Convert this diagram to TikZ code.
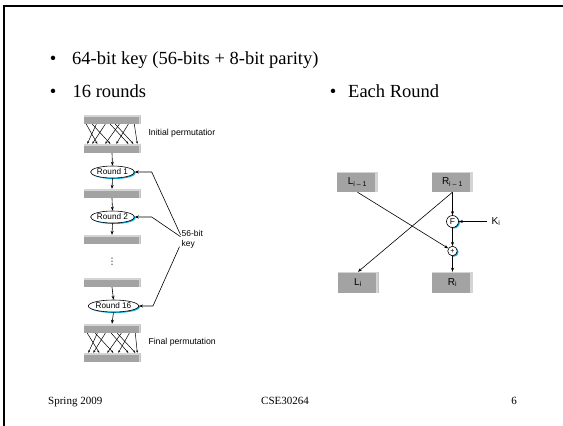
\documentclass[tikz,border=0pt]{standalone}
\usepackage{fontspec}
\setmainfont{Liberation Serif}
\setsansfont{Liberation Sans}
\newfontfamily\dejavu{DejaVu Sans}
\usetikzlibrary{arrows.meta,shapes.geometric,shadows,calc}
\definecolor{barfill}{RGB}{163,163,163}
\definecolor{bevel}{RGB}{212,212,212}
\definecolor{cyanshadow}{RGB}{0,175,225}
\begin{document}
\begin{tikzpicture}[x=1pt,y=-1pt,
  body/.style={font=\fontsize{18.5}{20}\selectfont, inner sep=0pt},
  foot/.style={font=\fontsize{11}{12}\selectfont, inner sep=0pt},
  lbl/.style={font=\sffamily\fontsize{8.7}{10}\selectfont, inner sep=0pt},
  bar/.style={rectangle, minimum width=57pt, minimum height=9pt, inner sep=0pt, fill=barfill,
    path picture={\fill[bevel] (path picture bounding box.north west) rectangle ([yshift=-1.5pt]path picture bounding box.north east);
                  \fill[bevel] ([xshift=-2pt]path picture bounding box.north east) rectangle (path picture bounding box.south east);}},
  box/.style={rectangle, minimum width=41pt, minimum height=20pt, inner sep=0pt, fill=barfill,
    font=\sffamily\fontsize{10}{11}\selectfont,
    path picture={\fill[bevel] ([xshift=-3pt]path picture bounding box.north east) rectangle (path picture bounding box.south east);
                  \fill[bevel] (path picture bounding box.north west) rectangle ([yshift=-1pt]path picture bounding box.north east);}},
  shad/.style={drop shadow={shadow xshift=1.3pt, shadow yshift=-1pt, fill=cyanshadow, opacity=1}},
  rnd/.style={ellipse, draw, fill=white, line width=0.6pt, minimum width=39pt, minimum height=12pt, inner sep=0pt,
    font=\sffamily\fontsize{8.2}{9}\selectfont, shad},
  crc/.style={circle, draw, fill=white, line width=0.6pt, inner sep=0pt, font=\sffamily\fontsize{8.5}{9}\selectfont, shad},
  arr/.style={line width=0.6pt, -{Stealth[length=4pt,width=3pt]}},
  perm/.style={line width=0.5pt, -{Stealth[length=2.5pt,width=2pt]}}
]
\useasboundingbox (0,0) rectangle (563,426);
\fill[white] (0,0) rectangle (563,426);
\draw[line width=2pt] (3.5,426) -- (3.5,6) -- (563,6);

% bullets
\node[body, anchor=base] (bl1) at (53,64.5) {•};
\node[body, anchor=base west] (t1) at (72,64.5) {64-bit key (56-bits + 8-bit parity)};
\node[body, anchor=base] (bl2) at (53,97) {•};
\node[body, anchor=base west] (t2) at (72.5,97) {16 rounds};
\node[body, anchor=base] (bl3) at (333,97) {•};
\node[body, anchor=base west] (t3) at (348,97) {Each Round};

% left diagram
\node[bar] (b0) at (112,119.5) {};
\node[bar] (b1) at (112,148.5) {};
\node[rnd] (r1) at (112.5,172) {Round 1};
\node[bar] (b2) at (112,193.5) {};
\node[rnd] (r2) at (112.5,217) {Round 2};
\node[bar] (b3) at (112,239.5) {};
\node[font=\dejavu\fontsize{9}{10}\selectfont, inner sep=0pt] (dots) at (112,262) {⋮};
\node[bar] (b4) at (112,282.5) {};
\node[rnd, minimum width=45pt] (r16) at (113.5,306) {Round 16};
\node[bar] (b5) at (112,328.5) {};
\node[bar] (b6) at (112,357.5) {};

\node[lbl, anchor=west] (ip) at (148.3,133) {Initial permutatior};
\node[lbl, anchor=west] (fp) at (148.3,342.7) {Final permutation};
\node[lbl, anchor=north west, align=left, font=\sffamily\fontsize{8.5}{10}\selectfont] (key) at (181.5,230.5) {56-bit\\key};

\foreach \a/\b in {3/14, 13/4, 9/27, 22/9, 27/45, 36/22, 32/50, 45/33, 51/54}
  \draw[perm] ($(b0.south west)+(\a,0)$) -- ($(b1.north west)+(\b,0)$);
\foreach \a/\b in {4/16, 14/5, 12/30, 22/10, 28/45, 38/24, 34/52, 46/35, 52/54}
  \draw[perm] ($(b5.south west)+(\a,0)$) -- ($(b6.north west)+(\b,0)$);

\draw[arr] (b1.south) -- (r1.north);
\draw[arr] (r1.south) -- (b2.north);
\draw[arr] (b2.south) -- (r2.north);
\draw[arr] (r2.south) -- (b3.north);
\draw[arr] (b4.south) -- (r16.north);
\draw[arr] (r16.south) -- (b5.north);

\draw[arr] ($(key.west)+(-1,-5)$) -- ($(r1.east)+(17,0)$) -- (r1.east);
\draw[arr] ($(key.west)+(-1,-3)$) -- ($(r2.east)+(17,0)$) -- (r2.east);
\draw[arr] ($(key.west)+(-2,7)$) -- ($(r16.east)+(14,0)$) -- (r16.east);

% right diagram
\node[box] (Lb) at (357.5,182) {L\textsubscript{i – 1}};
\node[box] (Rb) at (452.5,182) {R\textsubscript{i – 1}};
\node[crc, minimum size=12pt] (F) at (452.5,221.5) {F};
\node[crc, minimum size=9.5pt, font=\sffamily\fontsize{7}{7}\selectfont] (X) at (452.5,251) {+};
\node[box, minimum height=21pt] (Li) at (358,282.5) {L\textsubscript{i}};
\node[box, minimum height=21pt] (Ri) at (452.5,282.5) {R\textsubscript{i}};
\node[font=\sffamily\fontsize{10}{11}\selectfont, inner sep=0pt, anchor=west] (K) at (491.5,221.5) {K\textsubscript{i}};

\draw[arr] (Rb.south) -- (F.north);
\draw[arr] (F.south) -- (X.north);
\draw[arr] (X.south) -- (Ri.north);
\draw[arr] ($(K.west)+(-5,0)$) -- (F.east);
\draw[arr] (Lb.south) -- (X);
\draw[arr] (Rb.south) -- (Li.north);

% footer
\node[foot, anchor=base west] (f1) at (48,404.5) {Spring 2009};
\node[foot, anchor=base] (f2) at (285,404.5) {CSE30264};
\node[foot, anchor=base] (f3) at (514,404.5) {6};
\end{tikzpicture}
\end{document}
